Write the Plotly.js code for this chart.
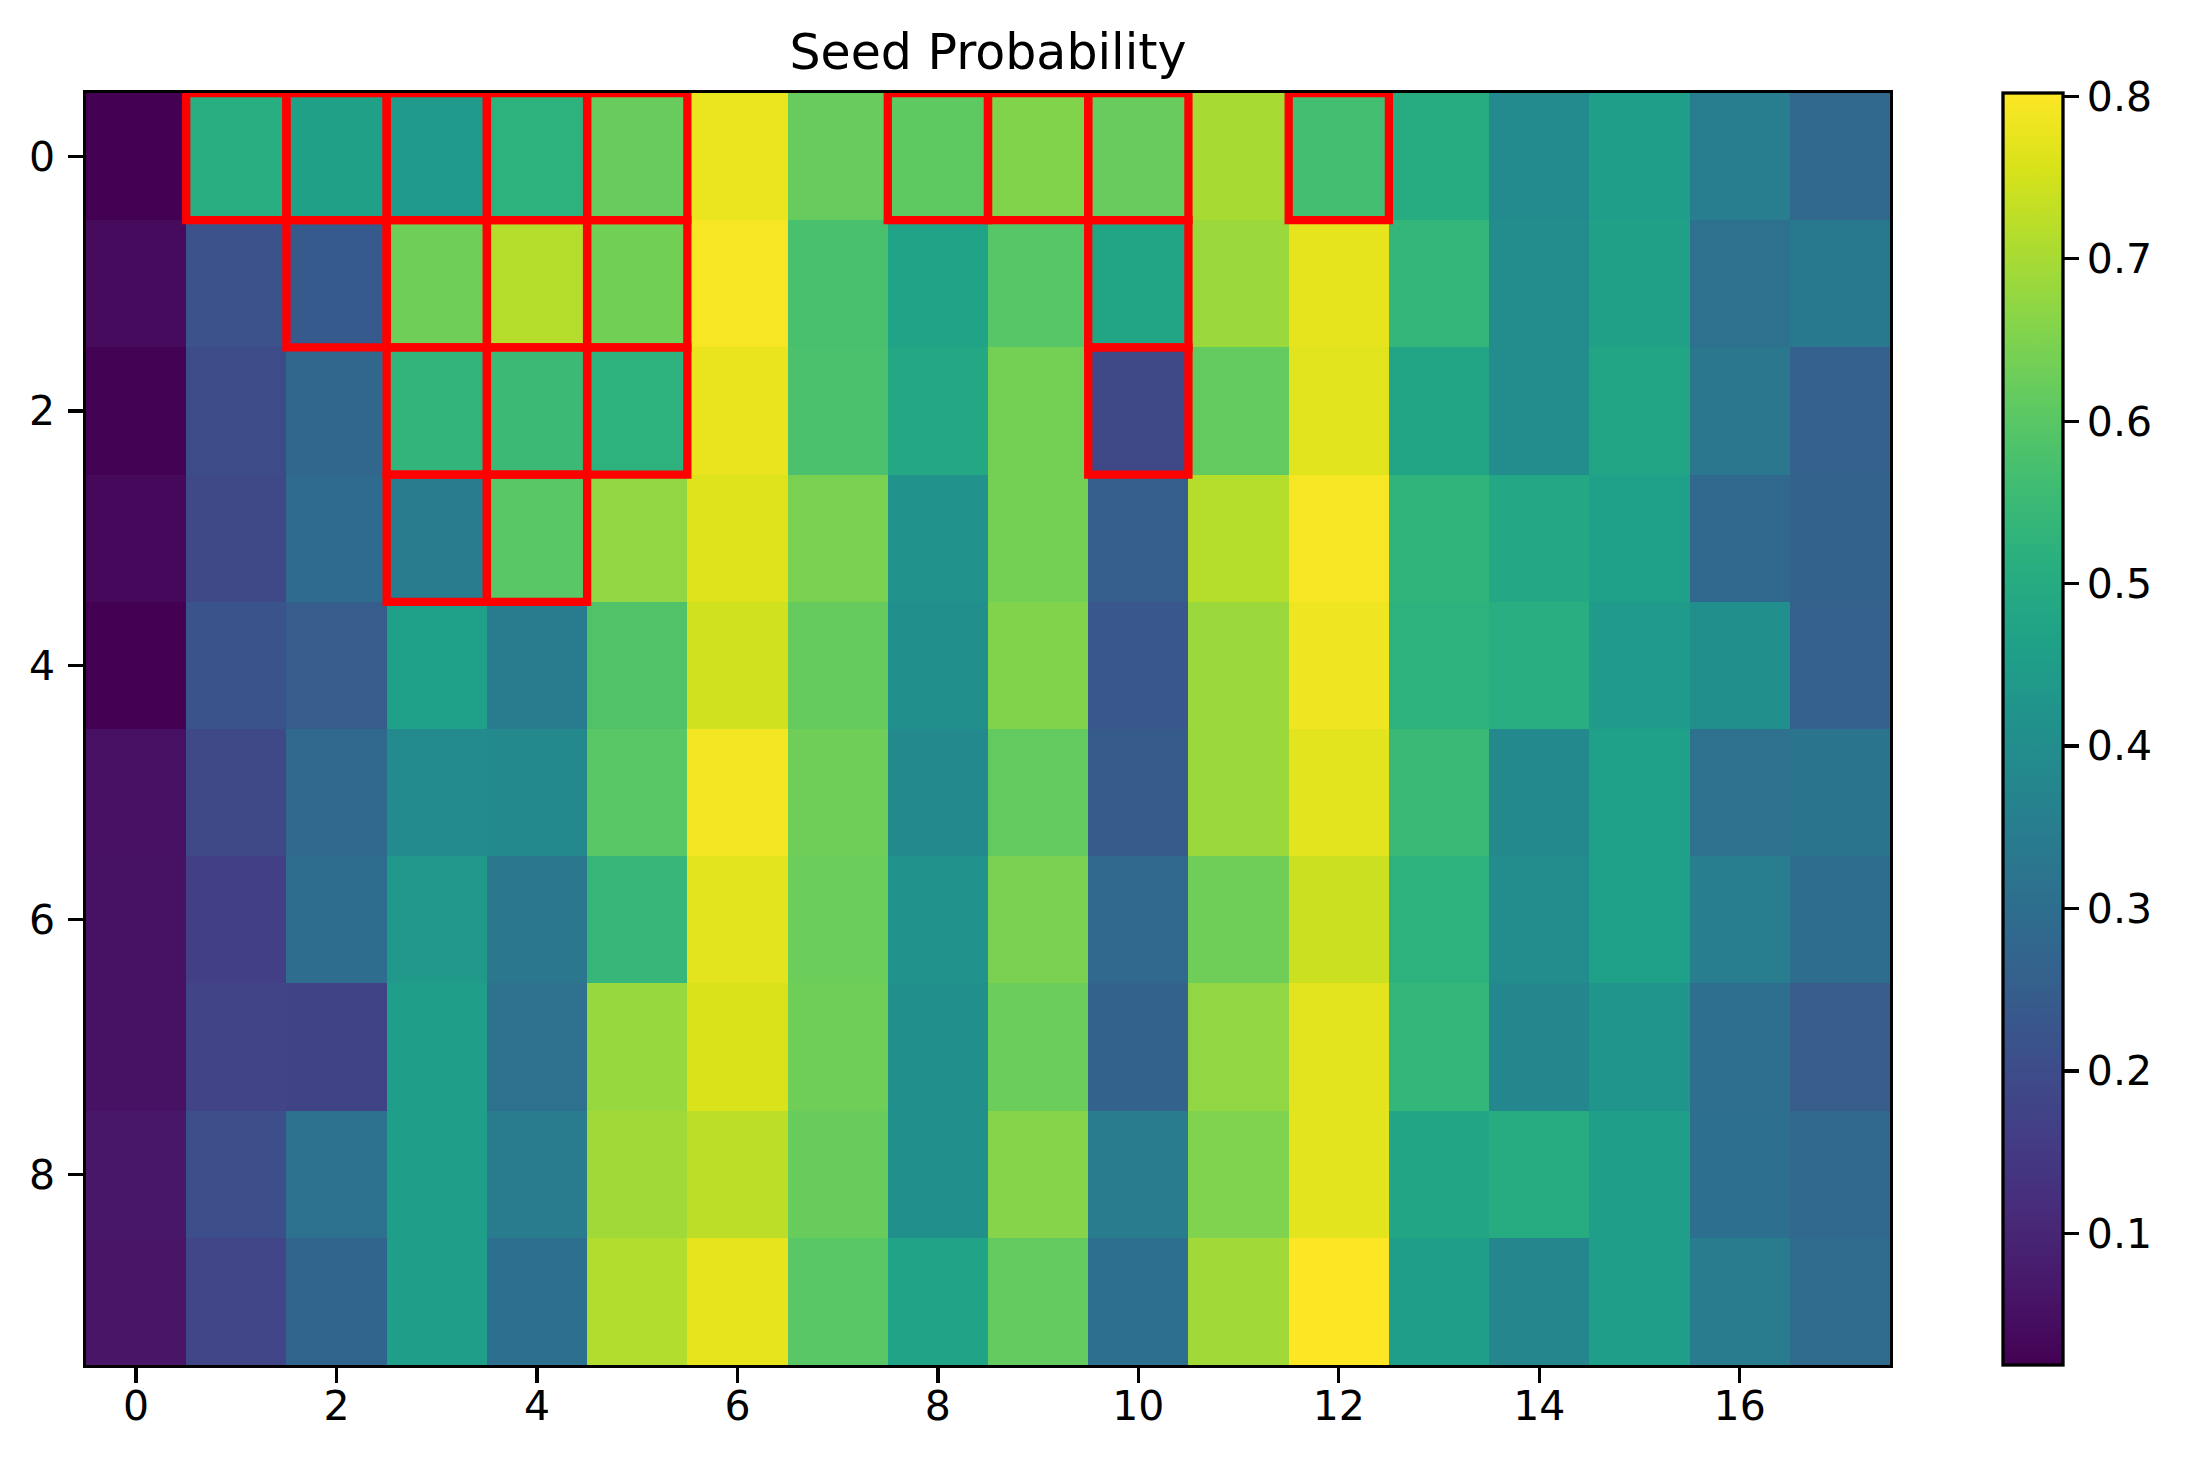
<!DOCTYPE html>
<html>
<head>
<meta charset="utf-8">
<script src="https://cdn.plot.ly/plotly-3.0.1.min.js"></script>
<style>
  html, body { margin: 0; padding: 0; background: #ffffff; }
  #chart { width: 2191px; height: 1466px; }
</style>
</head>
<body>
<div id="chart"></div>
<script>
// ---- data ----
const colIndex = [0,1,2,3,4,5,6,7,8,9,10,11,12,13,14,15,16,17];
const rowIndex = [0,1,2,3,4,5,6,7,8,9];

const row0 = [0.019, 0.510, 0.465, 0.440, 0.520, 0.620, 0.780, 0.620, 0.610, 0.655, 0.620, 0.700, 0.567, 0.505, 0.388, 0.455, 0.350, 0.285];
const row1 = [0.040, 0.215, 0.240, 0.630, 0.715, 0.634, 0.795, 0.575, 0.470, 0.598, 0.480, 0.685, 0.772, 0.536, 0.400, 0.465, 0.310, 0.335];
const row2 = [0.022, 0.200, 0.277, 0.532, 0.550, 0.520, 0.778, 0.578, 0.489, 0.637, 0.190, 0.614, 0.767, 0.477, 0.395, 0.478, 0.330, 0.258];
const row3 = [0.035, 0.190, 0.290, 0.345, 0.600, 0.673, 0.763, 0.645, 0.415, 0.637, 0.250, 0.715, 0.795, 0.530, 0.485, 0.460, 0.285, 0.262];
const row4 = [0.020, 0.222, 0.246, 0.460, 0.340, 0.587, 0.747, 0.618, 0.410, 0.655, 0.230, 0.685, 0.785, 0.520, 0.510, 0.440, 0.410, 0.258];
const row5 = [0.050, 0.190, 0.285, 0.390, 0.387, 0.600, 0.790, 0.630, 0.387, 0.614, 0.245, 0.685, 0.770, 0.548, 0.387, 0.460, 0.310, 0.320];
const row6 = [0.054, 0.165, 0.297, 0.438, 0.328, 0.540, 0.770, 0.626, 0.414, 0.645, 0.285, 0.630, 0.740, 0.520, 0.395, 0.460, 0.350, 0.297];
const row7 = [0.055, 0.176, 0.178, 0.454, 0.310, 0.680, 0.759, 0.630, 0.410, 0.626, 0.262, 0.673, 0.770, 0.536, 0.380, 0.425, 0.300, 0.246];
const row8 = [0.066, 0.207, 0.313, 0.454, 0.340, 0.692, 0.724, 0.622, 0.410, 0.660, 0.340, 0.652, 0.770, 0.477, 0.505, 0.454, 0.305, 0.283];
const row9 = [0.062, 0.183, 0.270, 0.454, 0.305, 0.712, 0.775, 0.600, 0.470, 0.614, 0.305, 0.692, 0.802, 0.454, 0.377, 0.454, 0.345, 0.295];

// highlighted cells (row, column)
const highlightRows = [0,0,0,0,0,0,0,0,0, 1,1,1,1,1, 2,2,2,2, 3,3];
const highlightCols = [1,2,3,4,5,8,9,10,12, 2,3,4,5,10, 3,4,5,10, 3,4];

const xTickVals = [0,2,4,6,8,10,12,14,16];
const yTickVals = [0,2,4,6,8];
const cbTickVals = [0.1,0.2,0.3,0.4,0.5,0.6,0.7,0.8];

const zMin = 0.019;
const zMax = 0.802;
const chartTitle = 'Seed Probability';

// ---- chart ----
const z = [row0,row1,row2,row3,row4,row5,row6,row7,row8,row9];
const FONT = 'DejaVu Sans, sans-serif';

const shapes = highlightRows.map((r, i) => ({
  type: 'rect',
  xref: 'x', yref: 'y',
  x0: highlightCols[i] - 0.5, x1: highlightCols[i] + 0.5,
  y0: r - 0.5, y1: r + 0.5,
  line: { color: '#ff0000', width: 8.3 },
  fillcolor: 'rgba(0,0,0,0)',
  layer: 'above'
}));

const trace = {
  type: 'heatmap',
  x: colIndex,
  y: rowIndex,
  z: z,
  zmin: zMin,
  zmax: zMax,
  colorscale: 'Viridis',
  hoverinfo: 'skip',
  colorbar: {
    thickness: 60,
    len: 1,
    lenmode: 'fraction',
    x: 1.0625,
    xanchor: 'left',
    xpad: 0,
    y: 0.5,
    yanchor: 'middle',
    ypad: 0,
    outlinewidth: 3.3,
    outlinecolor: '#000000',
    ticks: 'outside',
    ticklen: 14.5,
    tickwidth: 3.3,
    tickcolor: '#000000',
    tickvals: cbTickVals,
    tickformat: '.1f',
    tickfont: { family: FONT, size: 41, color: '#000000' }
  }
};

const layout = {
  width: 2191,
  height: 1466,
  paper_bgcolor: '#ffffff',
  plot_bgcolor: '#ffffff',
  margin: { l: 86, r: 301, t: 93, b: 101, pad: 0 },
  font: { family: FONT, size: 41, color: '#000000' },
  title: {
    text: chartTitle,
    font: { family: FONT, size: 49, color: '#000000' },
    x: 0.5, xref: 'paper', xanchor: 'center',
    y: 1 - 52/1466, yref: 'container', yanchor: 'middle'
  },
  xaxis: {
    range: [-0.5, 17.5],
    tickvals: xTickVals,
    ticks: 'outside',
    ticklen: 14.5,
    tickwidth: 3.3,
    tickcolor: '#000000',
    ticklabelstandoff: -12,
    showline: true,
    mirror: true,
    linewidth: 3.3,
    linecolor: '#000000',
    showgrid: false,
    zeroline: false,
    tickfont: { family: FONT, size: 41, color: '#000000' }
  },
  yaxis: {
    range: [9.5, -0.5],
    tickvals: yTickVals,
    ticks: 'outside',
    ticklen: 14.5,
    tickwidth: 3.3,
    tickcolor: '#000000',
    ticklabelstandoff: 5,
    showline: true,
    mirror: true,
    linewidth: 3.3,
    linecolor: '#000000',
    showgrid: false,
    zeroline: false,
    tickfont: { family: FONT, size: 41, color: '#000000' }
  },
  shapes: shapes,
  showlegend: false
};

Plotly.newPlot('chart', [trace], layout, { staticPlot: true, displayModeBar: false });
</script>
</body>
</html>
